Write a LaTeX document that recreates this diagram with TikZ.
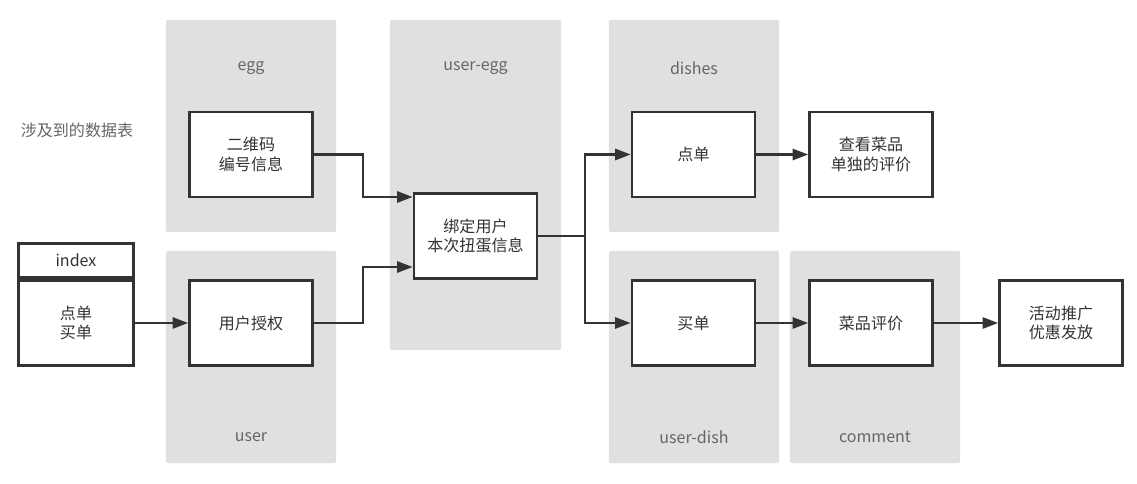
\documentclass[tikz,border=0pt]{standalone}
\usepackage{fontspec}
\setmainfont{Noto Sans CJK SC}
\usetikzlibrary{arrows.meta,calc}
\usepackage{xcolor}
\definecolor{panelgray}{HTML}{E0E0E0}
\definecolor{linedark}{HTML}{333333}
\definecolor{textdark}{HTML}{333333}
\definecolor{labelgray}{HTML}{666666}

\begin{document}
\begin{tikzpicture}[x=0.025cm,y=-0.025cm,font=\fontsize{11.4}{14}\selectfont]
\tikzstyle{panel} = [rectangle, fill=panelgray, rounded corners=1pt,
minimum width=4.25cm, minimum height=5.3cm, inner sep=0pt]
\tikzstyle{tallpanel} = [panel, minimum width=4.275cm, minimum height=8.25cm]
\tikzstyle{tag} = [text=labelgray, inner sep=0pt]

\tikzstyle{block} = [rectangle, draw=linedark, line width=2pt, fill=white,
text=textdark, align=center, minimum width=3.075cm, minimum height=2.125cm, inner sep=0pt]
\tikzstyle{head} = [block, minimum width=2.875cm, minimum height=0.85cm]
\tikzstyle{line} = [draw=linedark, line width=1.5pt, -{Triangle[length=11pt,width=8pt]}]
\useasboundingbox (0,0) rectangle (1137,484);

% data tables
\node [panel] (eggp) at (251,126) {};
\node [panel] (userp) at (251,357) {};
\node [tallpanel] (useregg) at (475.5,185) {};
\node [panel] (dishp) at (694,126) {};
\node [panel] (userdish) at (694,357) {};
\node [panel] (commentp) at (875,357) {};
\node [tag] (eggt) at (251,68) {egg};
\node [tag] (usert) at (251,437) {user};
\node [tag] (useregt) at (475.5,68) {user-egg};
\node [tag] (disht) at (694,68) {dishes};
\node [tag] (userdisht) at (694,437) {user-dish};
\node [tag] (commentt) at (875,437) {comment};
\node [tag] (tables) at (77,130) {涉及到的数据表};

% steps
\node [head] (indexhead) at (76,260.5) {index};
\node [block, minimum width=2.875cm] (indexbody) at (76,323) {点单\\买单};
\node [block] (qrcode) at (251,154.5) {二维码\\编号信息};
\node [block] (auth) at (251,323) {用户授权};
\node [block] (bind) at (475.5,236) {绑定用户\\本次扭蛋信息};
\node [block] (order) at (693.5,154.5) {点单};
\node [block] (pay) at (693.5,323) {买单};
\node [block] (viewrev) at (871,154.5) {查看菜品\\单独的评价};
\node [block] (review) at (871,323) {菜品评价};
\node [block] (promo) at (1061,323) {活动推广\\优惠发放};

\path [line] (indexbody.east) -- (auth.west);
\path [line] (qrcode.east) -- ++(49,0) |- ($(bind.west)+(0,-39)$);
\path [line] (auth.east) -- ++(49,0) |- ($(bind.west)+(0,31)$);
\path [line] (bind.east) -- ++(47,0) |- (order.west);
\path [line] (bind.east) -- ++(47,0) |- (pay.west);
\path [line] (order.east) -- (viewrev.west);
\path [line] (pay.east) -- (review.west);
\path [line] (review.east) -- (promo.west);

\end{tikzpicture}
\end{document}
